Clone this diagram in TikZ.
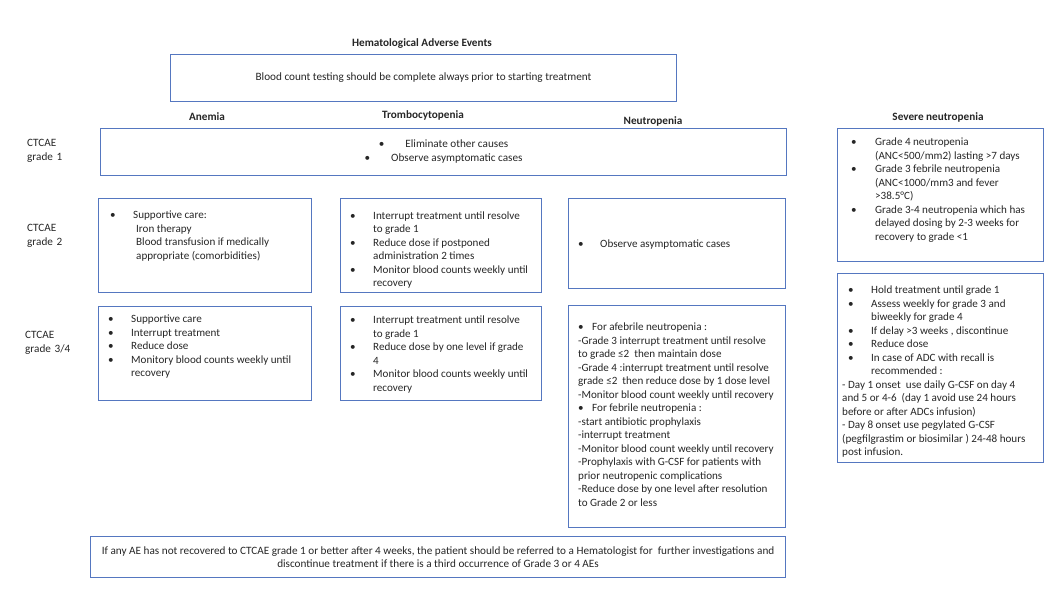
\documentclass[tikz,border=0pt]{standalone}
\usepackage{fontspec}
\setmainfont{Carlito}
\definecolor{boxblue}{HTML}{5577C0}
\definecolor{txt}{HTML}{262626}
\newcommand\bitem[2]{\ifvmode\else\par\fi\noindent\hangindent=#2\hangafter=1\hbox to #2{\hspace*{#1}\textbullet\hfil}\ignorespaces}
\newcommand\plainline{\ifvmode\else\par\fi\noindent\ignorespaces}
\newcommand\tbody[1]{\parbox[t]{240pt}{\raggedright\parskip=0pt #1}}
\begin{document}
\begin{tikzpicture}[x=1pt,y=-1pt,
  box/.style={draw=boxblue, line width=1.1pt, anchor=north west, inner sep=0pt},
  body/.style={anchor=base west, inner sep=0pt, text=txt,
     font=\fontsize{11.1}{13.5}\selectfont},
  small/.style={inner sep=0pt, align=center, text=txt, font=\fontsize{11.2}{13.8}\selectfont},
  head/.style={inner sep=0pt, anchor=base, text=txt, font=\bfseries\fontsize{11.2}{12}\selectfont},
  lbl/.style={anchor=base west, inner sep=0pt, text width=60pt, align=left, text=txt,
     font=\fontsize{11.2}{14}\selectfont}]
\useasboundingbox (0,0) rectangle (1055,592);
% boxes
\node[box, minimum width=506pt, minimum height=47pt] (top) at (170,54) {};
\node[box, minimum width=686pt, minimum height=47pt] (g1) at (100,128) {};
\node[box, minimum width=213pt, minimum height=94pt] (a2) at (98,198) {};
\node[box, minimum width=201pt, minimum height=94pt] (t2) at (340,198) {};
\node[box, minimum width=217pt, minimum height=90pt] (n2) at (568,198) {};
\node[box, minimum width=213pt, minimum height=94pt] (a3) at (98,306) {};
\node[box, minimum width=201pt, minimum height=94pt] (t3) at (340,306) {};
\node[box, minimum width=217pt, minimum height=222pt] (n3) at (568,305) {};
\node[box, minimum width=206pt, minimum height=133pt] (s1) at (837,128) {};
\node[box, minimum width=206pt, minimum height=189pt] (s2) at (837,273) {};
\node[box, minimum width=695pt, minimum height=41pt] (bot) at (90,536) {};
% headings
\node[head] (title) at (422,46.5) {Hematological Adverse Events};
\node[head] (hA) at (207,120.5) {Anemia};
\node[head] (hT) at (423,118.5) {Trombocytopenia};
\node[head] (hN) at (653,124.5) {Neutropenia};
\node[head] (hS) at (938,120.5) {Severe neutropenia};
% row labels
\node[lbl] (l1) at (27,146.5) {CTCAE\\grade 1};
\node[lbl] (l2) at (27,231.5) {CTCAE\\grade 2};
\node[lbl] (l3) at (25,338.5) {CTCAE\\grade 3/4};
% texts
\node[small, anchor=center] (ttop) at (top.center) {Blood count testing should be complete always prior to starting treatment};
\node[small, anchor=center] (tg1) at ([yshift=0.5pt]g1.center) {\textbullet\hspace{21pt}Eliminate other causes\\\textbullet\hspace{21pt}Observe asymptomatic cases};
\node[small, anchor=center] (tbot) at (bot.center) {If any AE has not recovered to CTCAE grade 1 or better after 4 weeks, the patient should be referred to a Hematologist for \ further investigations and\\discontinue treatment if there is a third occurrence of Grade 3 or 4 AEs};
\node[body] (ta2) at ([shift={(12,20.5)}]a2.north west) {\tbody{\bitem{0pt}{23pt}Supportive care:\newline\hspace*{3pt}Iron therapy\newline\hspace*{3pt}Blood transfusion if medically\newline\hspace*{3pt}appropriate (comorbidities)}};
\node[body] (tt2) at ([shift={(10,21)}]t2.north west) {\tbody{\bitem{0pt}{23pt}Interrupt treatment until resolve\newline to grade 1\bitem{0pt}{23pt}Reduce dose if postponed\newline administration 2 times\bitem{0pt}{23pt}Monitor blood counts weekly until\newline recovery}};
\node[body] (tn2) at ([shift={(10,49.5)}]n2.north west) {\tbody{\bitem{0pt}{22pt}Observe asymptomatic cases}};
\node[body] (ta3) at ([shift={(10,16.5)}]a3.north west) {\tbody{\bitem{0pt}{23pt}Supportive care\bitem{0pt}{23pt}Interrupt treatment\bitem{0pt}{23pt}Reduce dose\bitem{0pt}{23pt}Monitory blood counts weekly until\newline recovery}};
\node[body] (tt3) at ([shift={(10,17.5)}]t3.north west) {\tbody{\bitem{0pt}{23pt}Interrupt treatment until resolve\newline to grade 1\bitem{0pt}{23pt}Reduce dose by one level if grade\newline 4\bitem{0pt}{23pt}Monitor blood counts weekly until\newline recovery}};
\node[body] (tn3) at ([shift={(10,25.5)}]n3.north west) {\tbody{\bitem{0pt}{14pt}For afebrile neutropenia :\plainline -Grade 3 interrupt treatment until resolve\\to grade ≤2 \ then maintain dose\\-Grade 4 :interrupt treatment until resolve\\grade ≤2 \ then reduce dose by 1 dose level\\-Monitor blood count weekly until recovery\bitem{0pt}{14pt}For febrile neutropenia :\plainline -start antibiotic prophylaxis\\-interrupt treatment\\-Monitor blood count weekly until recovery\\-Prophylaxis with G-CSF for patients with\\prior neutropenic complications\\-Reduce dose by one level after resolution\\to Grade 2 or less}};
\node[body] (ts1) at ([shift={(14,17.5)}]s1.north west) {\tbody{\bitem{0pt}{24pt}Grade 4 neutropenia\newline(ANC<500/mm2) lasting >7 days\bitem{0pt}{24pt}Grade 3 febrile neutropenia\newline(ANC<1000/mm3 and fever\newline>38.5°C)\bitem{0pt}{24pt}Grade 3-4 neutropenia which has\newline delayed dosing by 2-3 weeks for\newline recovery to grade <1}};
\node[body] (ts2) at ([shift={(5,20.5)}]s2.north west) {\tbody{\bitem{6pt}{29pt}Hold treatment until grade 1\bitem{6pt}{29pt}Assess weekly for grade 3 and\newline biweekly for grade 4\bitem{6pt}{29pt}If delay >3 weeks , discontinue\bitem{6pt}{29pt}Reduce dose\bitem{6pt}{29pt}In case of ADC with recall is\newline recommended :\plainline - Day 1 onset \ use daily G-CSF on day 4\\and 5 or 4-6 \ (day 1 avoid use 24 hours\\before or after ADCs infusion)\\- Day 8 onset use pegylated G-CSF\\(pegfilgrastim or biosimilar ) 24-48 hours\\post infusion.}};
\end{tikzpicture}
\end{document}
